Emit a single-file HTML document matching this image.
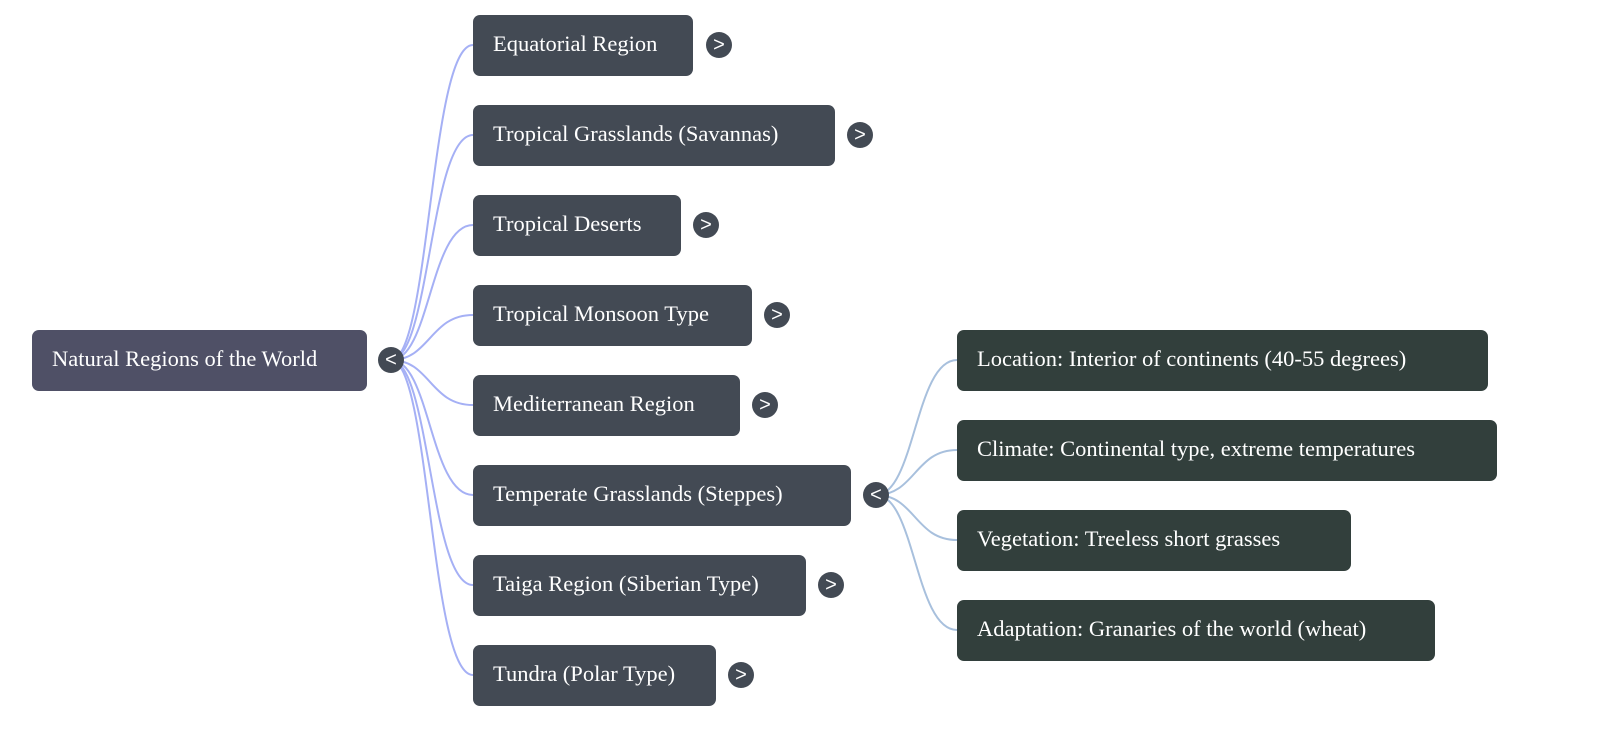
<!DOCTYPE html>
<html><head><style>
body{margin:0;width:1600px;height:737px;background:#fff;position:relative;overflow:hidden;font-family:"Liberation Serif",serif;}
.n{position:absolute;height:61px;border-radius:7px;color:#fff;font-size:22.5px;line-height:58px;padding-left:20px;box-sizing:border-box;white-space:nowrap;}
.r{background:#4f5066}.c{background:#434a54}.g{background:#323f3c}
.b{position:absolute;width:26px;height:26px;border-radius:50%;background:#434a54;color:#fff;font:20px/26px "Liberation Sans",sans-serif;text-align:center;}
</style></head><body>
<svg width="1600" height="737" style="position:absolute;left:0;top:0">
<g fill="none" stroke="#a5b0f5" stroke-width="2">
<path d="M391 360 C430 360,430 45,473 45"/><path d="M391 360 C430 360,430 135,473 135"/><path d="M391 360 C430 360,430 225,473 225"/><path d="M391 360 C430 360,430 315,473 315"/><path d="M391 360 C430 360,430 405,473 405"/><path d="M391 360 C430 360,430 495,473 495"/><path d="M391 360 C430 360,430 585,473 585"/><path d="M391 360 C430 360,430 675,473 675"/>
</g>
<g fill="none" stroke="#a8c0dd" stroke-width="2">
<path d="M876 495 C915 495,915 360,957 360"/><path d="M876 495 C915 495,915 450,957 450"/><path d="M876 495 C915 495,915 540,957 540"/><path d="M876 495 C915 495,915 630,957 630"/>
</g></svg>
<div class="n r" style="left:32px;top:330px;width:335px">Natural Regions of the World</div>
<div class="b" style="left:378px;top:347px">&lt;</div>
<div class="n c" style="left:473px;top:15px;width:220px">Equatorial Region</div><div class="b" style="left:706px;top:32px">&gt;</div>
<div class="n c" style="left:473px;top:105px;width:362px">Tropical Grasslands (Savannas)</div><div class="b" style="left:847px;top:122px">&gt;</div>
<div class="n c" style="left:473px;top:195px;width:208px">Tropical Deserts</div><div class="b" style="left:693px;top:212px">&gt;</div>
<div class="n c" style="left:473px;top:285px;width:279px">Tropical Monsoon Type</div><div class="b" style="left:764px;top:302px">&gt;</div>
<div class="n c" style="left:473px;top:375px;width:267px">Mediterranean Region</div><div class="b" style="left:752px;top:392px">&gt;</div>
<div class="n c" style="left:473px;top:465px;width:378px">Temperate Grasslands (Steppes)</div><div class="b" style="left:863px;top:482px">&lt;</div>
<div class="n c" style="left:473px;top:555px;width:333px">Taiga Region (Siberian Type)</div><div class="b" style="left:818px;top:572px">&gt;</div>
<div class="n c" style="left:473px;top:645px;width:243px">Tundra (Polar Type)</div><div class="b" style="left:728px;top:662px">&gt;</div>
<div class="n g" style="left:957px;top:330px;width:531px">Location: Interior of continents (40-55 degrees)</div>
<div class="n g" style="left:957px;top:420px;width:540px">Climate: Continental type, extreme temperatures</div>
<div class="n g" style="left:957px;top:510px;width:394px">Vegetation: Treeless short grasses</div>
<div class="n g" style="left:957px;top:600px;width:478px">Adaptation: Granaries of the world (wheat)</div>
</body></html>
